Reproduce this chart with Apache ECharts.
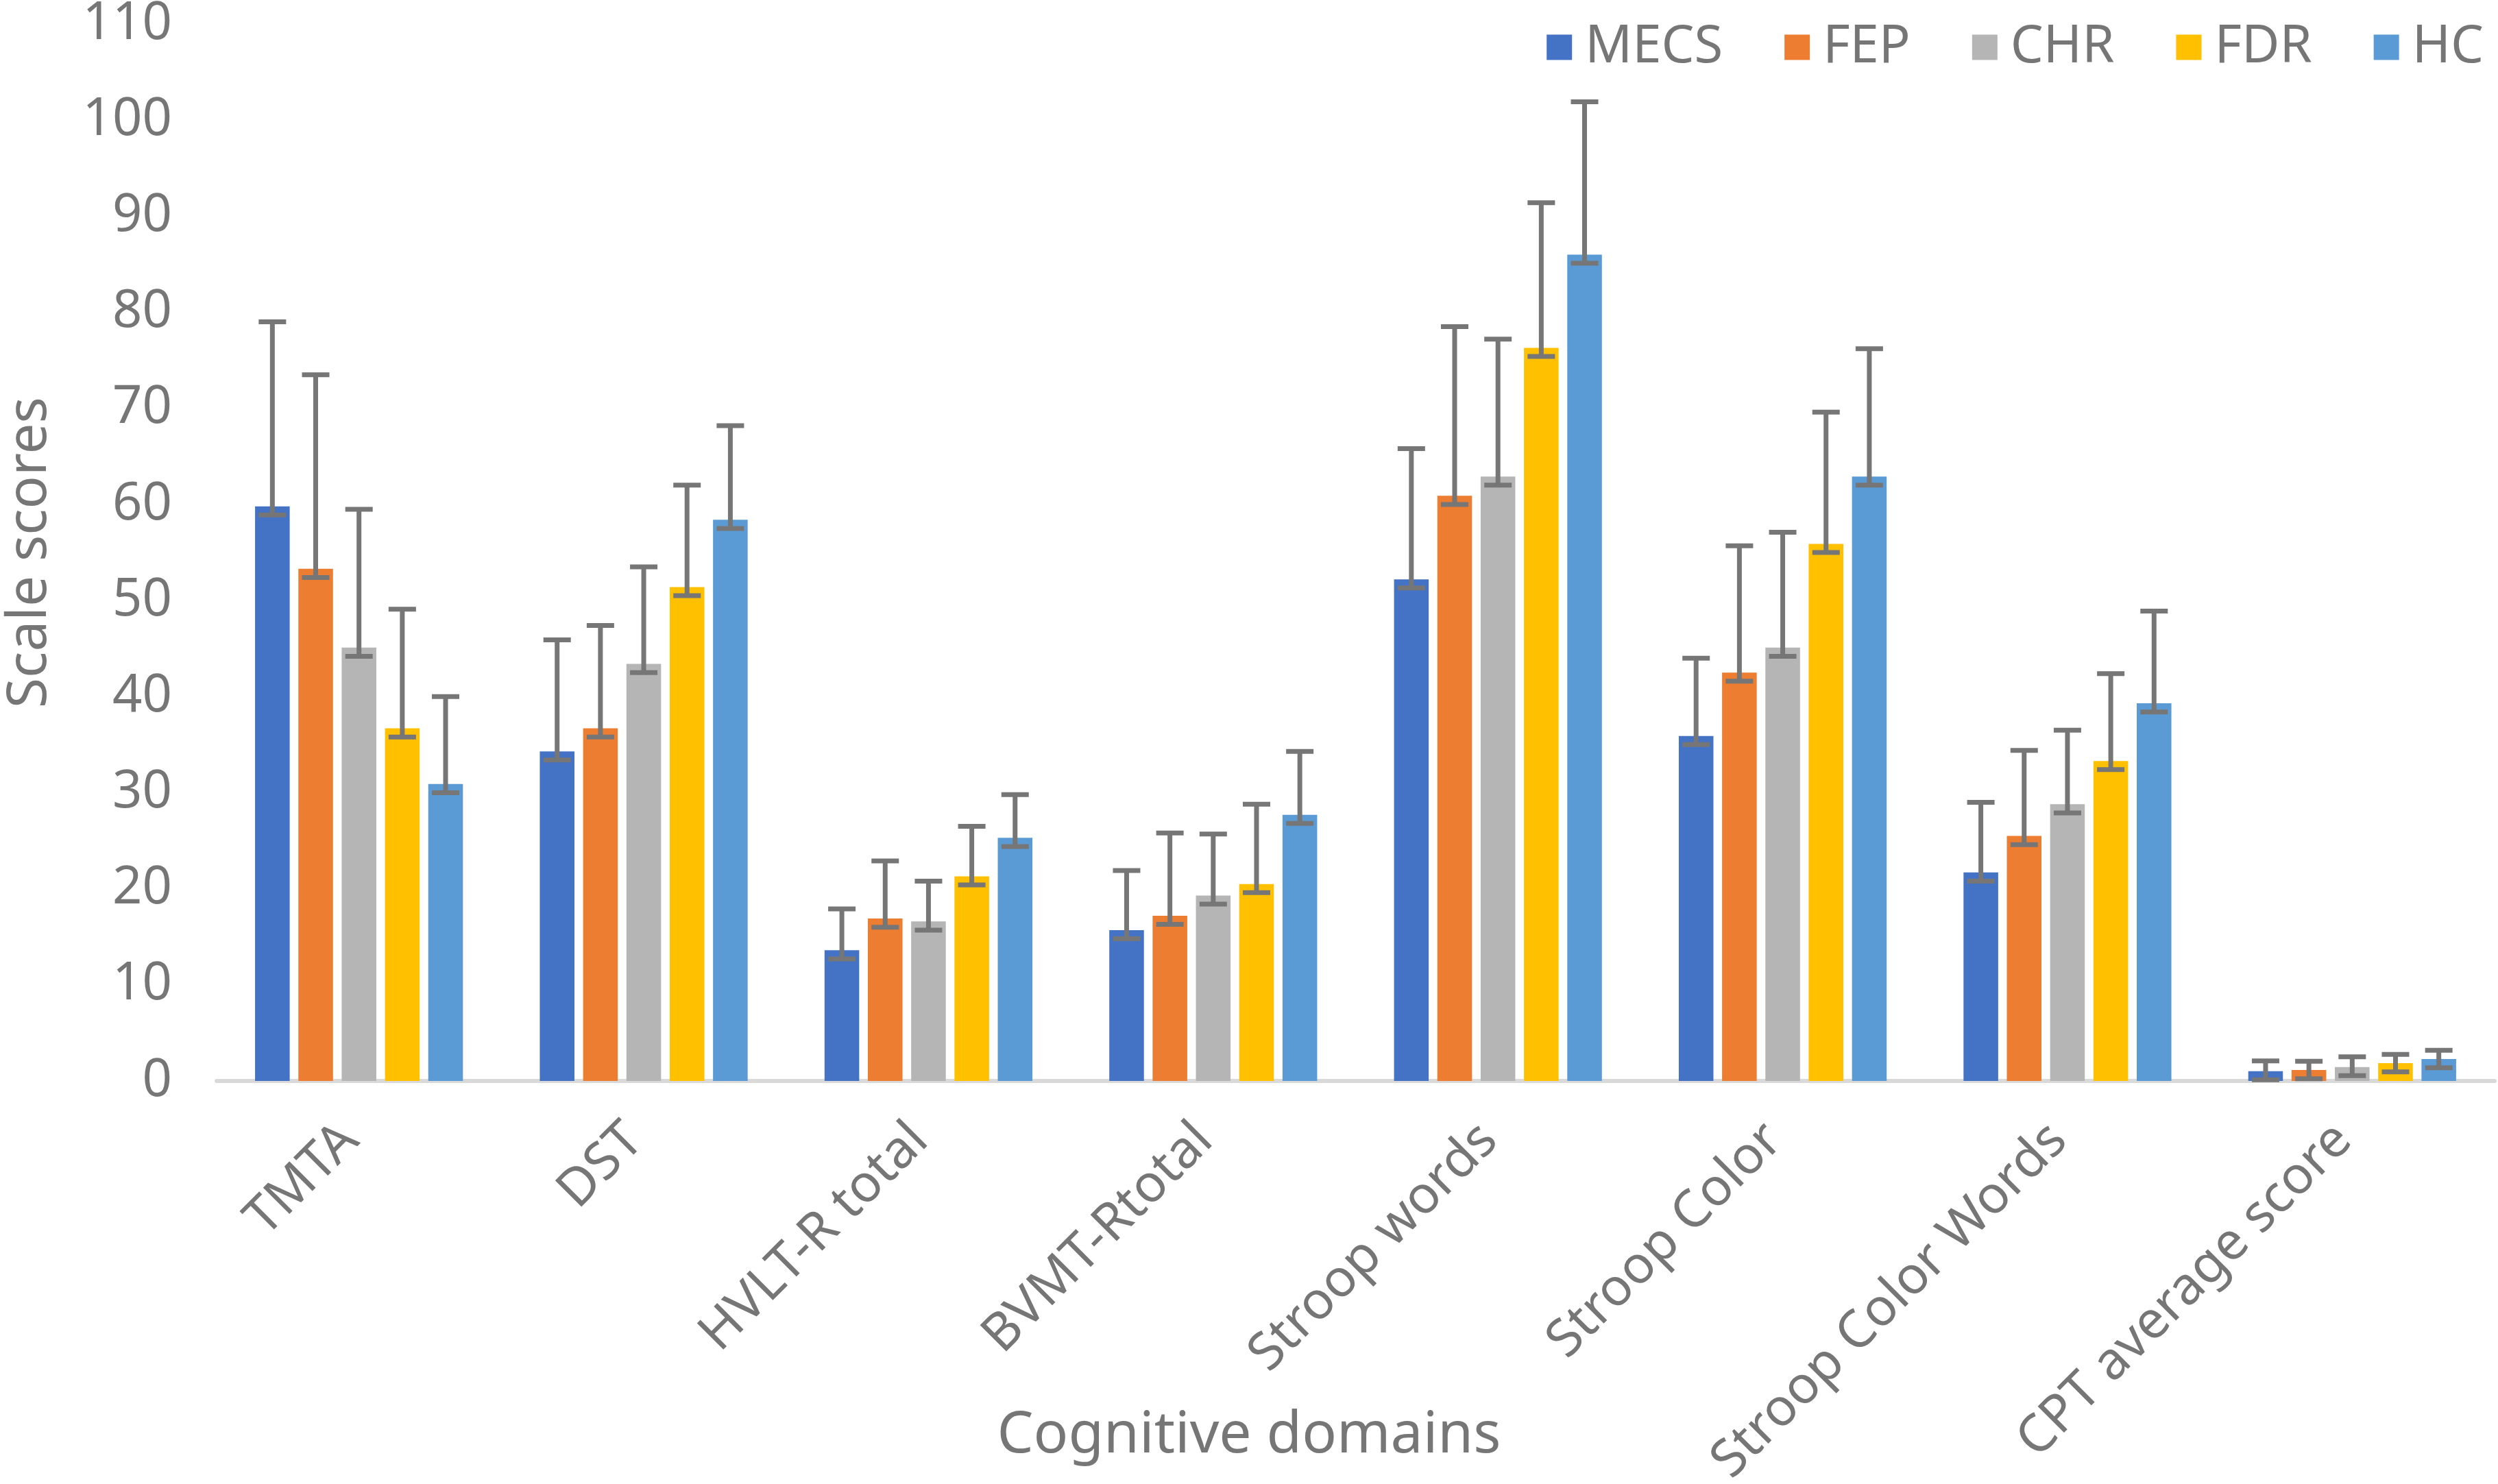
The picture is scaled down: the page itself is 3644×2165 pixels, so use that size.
<!DOCTYPE html>
<html lang="en">
<head>
  <meta charset="UTF-8">
  <title>Cognitive domains - scale scores</title>
  <script src="https://cdn.jsdelivr.net/npm/echarts@6/dist/echarts.min.js"></script>
  <style>
    html, body { margin: 0; padding: 0; background: #fff; }
    #chart { width: 3644px; height: 2165px; }
  </style>
</head>
<body>
  <div id="chart"></div>
  <script>
    // categories and groups
    const domains = ['TMTA', 'DST', 'HVLT-R total', 'BVMT-Rtotal', 'Stroop words',
                     'Stroop Color', 'Stroop Color Words', 'CPT average score'];
    const groups = ['MECS', 'FEP', 'CHR', 'FDR', 'HC'];

    // means
    const mecs = [59.8, 34.3, 13.6, 15.7, 52.2, 35.9, 21.7, 1.02];
    const fep  = [53.3, 36.7, 16.9, 17.2, 60.9, 42.5, 25.5, 1.14];
    const chr  = [45.1, 43.4, 16.6, 19.3, 62.9, 45.1, 28.8, 1.45];
    const fdr  = [36.7, 51.4, 21.3, 20.5, 76.3, 55.9, 33.3, 1.85];
    const hc   = [30.9, 58.4, 25.3, 27.7, 86.0, 62.9, 39.3, 2.28];

    // upper error (SD) for each bar
    const mecsSd = [19.2, 11.6, 4.3, 6.2, 13.6, 8.1, 7.3, 1.07];
    const fepSd  = [20.2, 10.7, 6.0, 8.6, 17.6, 13.2, 8.9, 0.91];
    const chrSd  = [14.4, 10.1, 4.2, 6.4, 14.3, 12.0, 7.7, 1.07];
    const fdrSd  = [12.4, 10.6, 5.2, 8.3, 15.1, 13.7, 9.1, 0.91];
    const hcSd   = [9.1, 9.8, 4.5, 6.6, 15.9, 13.3, 9.6, 0.91];

    // small lower end of the error bars
    const lowerErr = 0.9;

    const yTicks = { min: 0, max: 110, interval: 10 };

    const means = [mecs, fep, chr, fdr, hc];
    const sds = [mecsSd, fepSd, chrSd, fdrSd, hcSd];
    const colors = ['#4472C4', '#ED7D31', '#B5B5B5', '#FFC000', '#5B9BD5'];
    const textColor = '#767676';
    const errColor = '#767676';
    const font = 'Noto Sans';

    const BAR_GAP = 0.25;
    const CAT_GAP = 0.27;
    const N = groups.length;

    const chart = echarts.init(document.getElementById('chart'));

    const barSeries = groups.map((g, s) => ({
      name: g,
      type: 'bar',
      data: means[s],
      itemStyle: { color: colors[s] },
      barGap: (BAR_GAP * 100) + '%',
      barCategoryGap: (CAT_GAP * 100) + '%',
      z: 2
    }));

    // error bars drawn on top of each bar
    const errSeries = groups.map((g, s) => ({
      name: g + ' err',
      type: 'custom',
      z: 5,
      clip: false,
      data: domains.map((d, i) => [i, means[s][i], sds[s][i]]),
      renderItem: function (params, api) {
        const cat = api.value(0), mean = api.value(1), sd = api.value(2);
        const band = api.size([1, 0])[0];
        const bw = band * (1 - CAT_GAP) / (N + (N - 1) * BAR_GAP);
        const offset = -(bw * N + bw * BAR_GAP * (N - 1)) / 2 + s * bw * (1 + BAR_GAP) + bw / 2;
        const top = api.coord([cat, mean + sd]);
        const bot = api.coord([cat, mean - lowerErr]);
        const x = top[0] + offset;
        const cw = 20;
        const st = { stroke: errColor, lineWidth: 7 };
        return {
          type: 'group',
          children: [
            { type: 'line', shape: { x1: x, y1: top[1], x2: x, y2: bot[1] }, style: st },
            { type: 'line', shape: { x1: x - cw, y1: top[1], x2: x + cw, y2: top[1] }, style: st },
            { type: 'line', shape: { x1: x - cw, y1: bot[1], x2: x + cw, y2: bot[1] }, style: st }
          ]
        };
      }
    }));

    const option = {
      animation: false,
      backgroundColor: '#fff',
      textStyle: { fontFamily: font },
      title: {
        text: 'Cognitive domains',
        left: 'center',
        top: 2048,
        textStyle: { fontSize: 84, fontWeight: 'normal', color: textColor, fontFamily: font }
      },
      legend: {
        data: groups,
        right: 16,
        top: 26,
        itemWidth: 37,
        itemHeight: 37,
        itemGap: 90,
        icon: 'rect',
        textStyle: { fontSize: 76, color: textColor, fontFamily: font, padding: [0, 0, 0, 14] }
      },
      grid: {
        left: 316, right: 5, top: 35, bottom: 588,
        containLabel: false,
        outerBoundsMode: 'none'
      },
      xAxis: {
        type: 'category',
        data: domains,
        axisLine: { lineStyle: { color: '#D9D9D9', width: 6 } },
        axisTick: { show: false },
        axisLabel: {
          interval: 0,
          rotate: 45,
          margin: 62,
          fontSize: 76,
          color: textColor,
          fontFamily: font,
          padding: [0, 18, 0, 0]
        }
      },
      yAxis: {
        type: 'value',
        min: yTicks.min,
        max: yTicks.max,
        interval: yTicks.interval,
        name: 'Scale scores',
        nameLocation: 'middle',
        nameGap: 232,
        nameTextStyle: { fontSize: 80, color: textColor, fontFamily: font },
        axisLine: { show: false },
        axisTick: { show: false },
        splitLine: { show: false },
        axisLabel: { fontSize: 76, color: textColor, margin: 65, fontFamily: font }
      },
      series: barSeries.concat(errSeries)
    };

    chart.setOption(option);
  </script>
</body>
</html>
